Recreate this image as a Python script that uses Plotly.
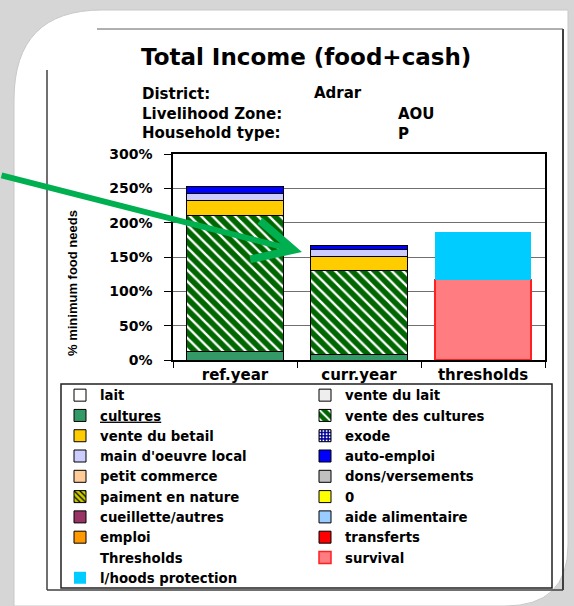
import plotly.graph_objects as go

# ---------------- data ----------------
categories = ["ref.year", "curr.year", "thresholds"]

series_names = [
    "lait", "vente du lait", "<u>cultures</u>", "vente des cultures",
    "vente du betail", "exode", "main d'oeuvre local", "auto-emploi",
    "petit commerce", "dons/versements", "paiment en nature", "0",
    "cueillette/autres", "aide alimentaire", "emploi", "transferts",
]
lait = [0, 0, 0]
vente_du_lait = [0, 0, 0]
cultures = [12, 8, 0]
vente_des_cultures = [199, 123, 0]
vente_du_betail = [22, 20, 0]
exode = [0, 0, 0]
main_oeuvre_local = [10, 10, 0]
auto_emploi = [9, 6, 0]
petit_commerce = [0, 0, 0]
dons_versements = [0, 0, 0]
paiment_en_nature = [0, 0, 0]
zero_series = [0, 0, 0]
cueillette_autres = [0, 0, 0]
aide_alimentaire = [0, 0, 0]
emploi = [0, 0, 0]
transferts = [0, 0, 0]

thresholds_blank = [0, 0, 0]
survival = [0, 0, 117]
lhoods_protection = [0, 0, 70]

y_tick_vals = [0, 50, 100, 150, 200, 250, 300]
y_tick_text = ["0%", "50%", "100%", "150%", "200%", "250%", "300%"]

# ---------------- geometry helpers (layout only) ----------------
W, H = 574, 606
L, R, T, B = 173, 545, 154, 360  # plot area in pixels


def px(x):
    return (x - L) / (R - L)


def py(y):
    return (B - y) / (B - T)


def nz(vals):
    # zero-height segments are not drawn (avoids stray outlines)
    return [v if v else None for v in vals]


FONT = "DejaVu Sans"
BLK = "#000000"

income_values = [
    lait, vente_du_lait, cultures, vente_des_cultures, vente_du_betail, exode,
    main_oeuvre_local, auto_emploi, petit_commerce, dons_versements,
    paiment_en_nature, zero_series, cueillette_autres, aide_alimentaire,
    emploi, transferts,
]
income_colors = [
    "#ffffff", "#eeeeee", "#339966", "#006600", "#ffcc00", "#000099",
    "#ccccff", "#0000ff", "#ffcc99", "#c0c0c0", "#999900", "#ffff00",
    "#993366", "#99ccff", "#ff9900", "#ff0000",
]
patterns = {
    "vente des cultures": dict(shape="\\", bgcolor="#006600", fgcolor="#ffffff",
                               size=8, solidity=0.3, fillmode="replace"),
    "paiment en nature": dict(shape="\\", bgcolor="#cccc00", fgcolor="#000000",
                              size=5, solidity=0.3, fillmode="replace"),
    "exode": dict(shape=".", bgcolor="#000099", fgcolor="#ffffff",
                  size=4, solidity=0.3, fillmode="replace"),
}

fig = go.Figure()
for name, vals, col in zip(series_names, income_values, income_colors):
    marker = dict(color=col, line=dict(color=BLK, width=1))
    if name in patterns:
        marker["pattern"] = patterns[name]
    fig.add_trace(go.Bar(x=categories, y=nz(vals), name=name, marker=marker,
                         hoverinfo="skip"))

fig.add_trace(go.Bar(x=categories, y=nz(thresholds_blank), name="Thresholds",
                     marker=dict(color="rgba(0,0,0,0)",
                                 line=dict(color="rgba(0,0,0,0)", width=0)),
                     hoverinfo="skip"))
fig.add_trace(go.Bar(x=categories, y=nz(survival), name="survival",
                     marker=dict(color="#ff7c80", line=dict(color="#ff2020", width=1.5)),
                     hoverinfo="skip"))
fig.add_trace(go.Bar(x=categories, y=nz(lhoods_protection), name="l/hoods protection",
                     marker=dict(color="#00ccff", line=dict(width=0)),
                     hoverinfo="skip"))

# ---------------- background decoration ----------------
shapes = []
panel = ("M {a},{b} Q {a},{c} {d},{c} L {e},{c} L {e},{f} Q {e},{g} {h},{g} "
         "L {a},{g} Z").format(
    a=px(14), b=py(100), c=py(10), d=px(102), e=px(568), f=py(545),
    g=py(606), h=px(505))
shapes.append(dict(type="path", path=panel, xref="paper", yref="paper",
                   fillcolor="#ffffff", line=dict(color="#c8c8c8", width=1),
                   layer="below"))
# chart area frame
shapes.append(dict(type="line", xref="paper", yref="paper", x0=px(47), x1=px(47),
                   y0=py(70), y1=py(590), line=dict(color="#404040", width=1.5),
                   layer="below"))
shapes.append(dict(type="line", xref="paper", yref="paper", x0=px(47), x1=px(563),
                   y0=py(590), y1=py(590), line=dict(color="#404040", width=1.5),
                   layer="below"))
shapes.append(dict(type="line", xref="paper", yref="paper", x0=px(563), x1=px(563),
                   y0=py(29), y1=py(590), line=dict(color="#404040", width=2),
                   layer="below"))
shapes.append(dict(type="line", xref="paper", yref="paper", x0=px(97), x1=px(563),
                   y0=py(29), y1=py(29), line=dict(color="#606060", width=1),
                   layer="below"))
# legend box
shapes.append(dict(type="rect", xref="paper", yref="paper", x0=px(61), x1=px(552),
                   y0=py(384), y1=py(588), line=dict(color="#202020", width=1.5),
                   fillcolor="#ffffff", layer="below"))

# ---------------- text ----------------
annotations = []


def txt(s, x, y, size, anchor="left", family=FONT, angle=0, yanchor="middle"):
    annotations.append(dict(text=s, x=px(x), y=py(y), xref="paper", yref="paper",
                            xanchor=anchor, yanchor=yanchor, showarrow=False,
                            textangle=angle, align="left",
                            font=dict(family=family, size=size, color=BLK,
                                      weight="bold")))


txt("Total Income (food+cash)", 306, 57, 23, anchor="center")
txt("District:<br>Livelihood Zone:<br>Household type:", 140, 83, 15, yanchor="top")
txt("Adrar", 312, 93, 15)
txt("AOU<br>P", 396, 103, 15, yanchor="top")
txt("% minimum food needs", 72, 283, 13, anchor="center",
    family="Liberation Sans", angle=-90)

# green arrow
annotations.append(dict(text="", x=px(302), y=py(252), xref="paper", yref="paper",
                        showarrow=True, ax=-312, ay=-77, arrowhead=5,
                        arrowwidth=6, arrowsize=1.3, arrowcolor="#00b050"))

fig.update_layout(
    width=W, height=H,
    margin=dict(l=L, r=W - R, t=T, b=H - B, pad=0, autoexpand=False),
    barmode="stack", bargap=0.225,
    paper_bgcolor="#d6d6d6", plot_bgcolor="#ffffff",
    showlegend=True,
    legend=dict(orientation="h", x=px(60), y=py(380), xanchor="left", yanchor="top",
                traceorder="normal", entrywidth=200, entrywidthmode="pixels",
                bgcolor="rgba(0,0,0,0)", borderwidth=0,
                font=dict(family=FONT, size=13.3, color=BLK, weight="bold"),
                itemclick=False, itemdoubleclick=False),
    shapes=shapes, annotations=annotations,
    xaxis=dict(type="category", showline=True, linecolor=BLK, linewidth=1.5,
               mirror=True, ticks="outside", tickson="boundaries", ticklen=6,
               tickcolor=BLK, tickfont=dict(family=FONT, size=15, color=BLK,
                                            weight="bold"),
               showgrid=False, fixedrange=True),
    yaxis=dict(range=[0, 300], tickmode="array", tickvals=y_tick_vals,
               ticktext=y_tick_text,
               showline=True, linecolor=BLK, linewidth=1.5, mirror=True,
               ticks="outside", ticklen=7, tickcolor=BLK, ticklabelstandoff=9,
               tickfont=dict(family=FONT, size=14, color=BLK, weight="bold"),
               showgrid=True, gridcolor="#707070", gridwidth=1, zeroline=False,
               fixedrange=True),
)

fig.write_html(
    "out.html",
    config={"displayModeBar": False},
    post_script="document.body.style.margin='0';document.body.style.overflow='hidden';",
)
